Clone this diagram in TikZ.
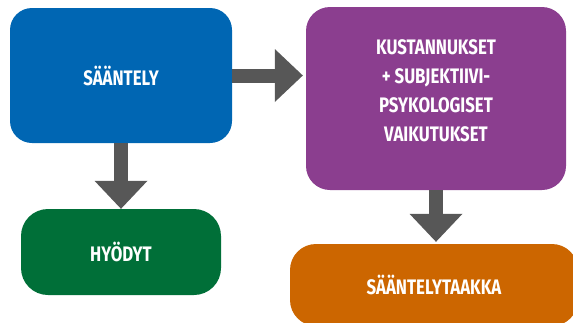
\documentclass[tikz,border=0pt]{standalone}
\usepackage{fontspec}
\setmainfont{Fira Sans}[FakeStretch=0.8]
\usetikzlibrary{arrows.meta}

\definecolor{saantblue}{HTML}{0066B3}
\definecolor{hyodgreen}{HTML}{006F38}
\definecolor{kustpurple}{HTML}{8B3E8F}
\definecolor{taakkaorange}{HTML}{CC6600}
\definecolor{arrowgray}{HTML}{575757}

\tikzset{
  box/.style={draw=none, rounded corners=24pt, inner sep=0pt},
  boxtext/.style={text=white, align=center, font=\fontsize{21}{29}\selectfont\bfseries},
  bigarrow/.style={draw=arrowgray, fill=arrowgray, line width=14pt,
    -{Triangle[length=28pt,width=53pt,line width=0pt]}}
}

\begin{document}
\begin{tikzpicture}[x=1pt,y=-1pt]
    \useasboundingbox (0,0) rectangle (573,322);
    \clip (0,0) rectangle (573,322);

    % boxes
    \node [box, boxtext, fill=saantblue, minimum width=222pt, minimum height=135pt, rounded corners=22pt]
      (saant) at (121,75.5) {SÄÄNTELY};
    \node [box, boxtext, fill=hyodgreen, minimum width=200pt, minimum height=86pt, rounded corners=27pt]
      (hyod) at (121,252) {HYÖDYT};
    \node [box, fill=kustpurple, minimum width=260pt, minimum height=183pt,
      label={[boxtext, yshift=8pt]center:KUSTANNUKSET\\+ SUBJEKTIIVI-\\PSYKOLOGISET\\VAIKUTUKSET}]
      (kust) at (436,98.5) {};
    \node [box, boxtext, fill=taakkaorange, minimum width=288pt, minimum height=82pt, rounded corners=26pt]
      (taakka) at (434,285) {SÄÄNTELYTAAKKA};

    % arrows
    \draw [bigarrow] (saant.south) -- (hyod.north);
    \draw [bigarrow] (saant.east) -- ([xshift=-3pt]kust.west |- saant.east);
    \draw [bigarrow] (kust.south) -- ([yshift=2pt]kust.south |- taakka.north);
\end{tikzpicture}
\end{document}
